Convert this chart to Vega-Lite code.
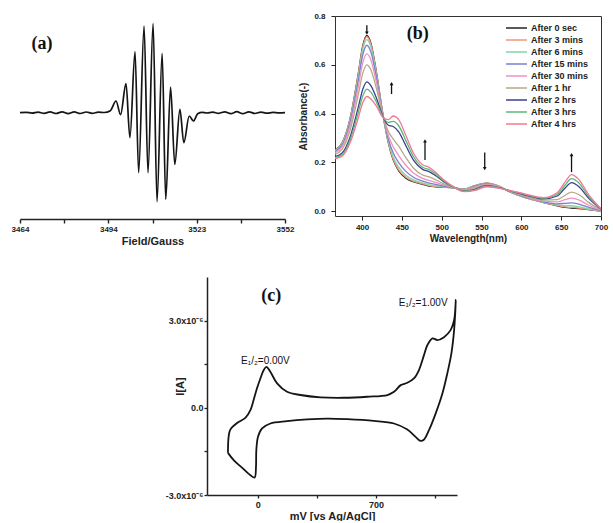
{
  "$schema": "https://vega.github.io/schema/vega-lite/v6.json",
  "background": "white",
  "padding": {"left": 11, "top": 11, "right": 0, "bottom": 0},
  "config": {
    "view": {"stroke": null},
    "axis": {"grid": false, "labelOverlap": false, "labelFont": "Liberation Sans", "labelFontWeight": "bold", "labelFontSize": 8, "titleFont": "Liberation Sans", "titleFontWeight": "bold", "titleFontSize": 11, "domainColor": "#222", "tickColor": "#222", "labelColor": "#222", "titleColor": "#222"}
  },
  "spacing": 31,
  "vconcat": [
    {
      "spacing": 4,
      "hconcat": [
        {
          "width": 265,
          "height": 203,
          "view": {"stroke": null},
          "layer": [
            {
              "data": {"values": [
                {"field": 3464, "s": 0}, {"field": 3466, "s": 0.4}, {"field": 3468, "s": -0.4}, {"field": 3470, "s": 0.6}, {"field": 3472, "s": -0.6}, {"field": 3474, "s": 0.8}, {"field": 3476, "s": -0.8}, {"field": 3478, "s": 0.9}, {"field": 3480, "s": -0.9}, {"field": 3482, "s": 0.8}, {"field": 3484, "s": -0.8}, {"field": 3486, "s": 0.7}, {"field": 3488, "s": -0.6}, {"field": 3490, "s": 0.6}, {"field": 3492, "s": 0.2}, {"field": 3494, "s": 2},
                {"field": 3495.9, "s": 11.7}, {"field": 3497.4, "s": -2}, {"field": 3499.2, "s": 29}, {"field": 3500.5, "s": -25}, {"field": 3502.2, "s": 61}, {"field": 3503.4, "s": -60}, {"field": 3505.2, "s": 86.7}, {"field": 3506.5, "s": -60}, {"field": 3508.2, "s": 89}, {"field": 3509.5, "s": -89}, {"field": 3511.2, "s": 59.3}, {"field": 3512.4, "s": -86.7}, {"field": 3514.0, "s": 25.7}, {"field": 3515.4, "s": -51.7}, {"field": 3517.1, "s": 3.3}, {"field": 3518.4, "s": -30}, {"field": 3520.2, "s": -3.3}, {"field": 3521.6, "s": -8.3}, {"field": 3523, "s": -1},
                {"field": 3524.5, "s": 0.3}, {"field": 3526, "s": -0.3}, {"field": 3528, "s": 0.6}, {"field": 3530, "s": -0.6}, {"field": 3532, "s": 0.9}, {"field": 3534, "s": -0.9}, {"field": 3536, "s": 1}, {"field": 3538, "s": -1}, {"field": 3540, "s": 0.9}, {"field": 3542, "s": -0.8}, {"field": 3544, "s": 0.6}, {"field": 3546, "s": -0.5}, {"field": 3548, "s": 0.3}, {"field": 3550, "s": -0.2}, {"field": 3552, "s": 0}
              ]},
              "mark": {"type": "line", "color": "#151515", "strokeWidth": 1.7, "interpolate": "monotone"},
              "encoding": {
                "x": {"field": "field", "type": "quantitative", "title": "Field/Gauss", "scale": {"domain": [3464, 3552], "nice": false, "zero": false},
                  "axis": {"values": [3464, 3478.67, 3493.33, 3508, 3522.67, 3537.33, 3552], "labelExpr": "(datum.value == 3478.67 || datum.value == 3508 || datum.value == 3537.33) ? '' : format(ceil(datum.value), 'd')", "tickSize": 4, "domainWidth": 1.6, "tickWidth": 1.4, "labelPadding": 2, "titlePadding": 2, "labelFlush": false}},
                "y": {"field": "s", "type": "quantitative", "title": "", "scale": {"domain": [-106.3, 96.7], "nice": false, "zero": false}, "axis": null}
              }
            },
            {
              "data": {"values": [{"field": 3471.3, "s": 68.7, "t": "(a)"}]},
              "mark": {"type": "text", "font": "Liberation Serif", "fontWeight": "bold", "fontSize": 18, "color": "#111"},
              "encoding": {
                "x": {"field": "field", "type": "quantitative", "title": "Field/Gauss"},
                "y": {"field": "s", "type": "quantitative", "title": ""},
                "text": {"field": "t"}
              }
            }
          ]
        },
        {
          "width": 266,
          "height": 200,
          "view": {"stroke": "#333", "strokeWidth": 1},
          "layer": [
            {
              "data": {"values": [
                {"wl": 366, "After 0 sec": 0.25, "After 3 mins": 0.249, "After 6 mins": 0.248, "After 15 mins": 0.244, "After 30 mins": 0.24, "After 1 hr": 0.233, "After 2 hrs": 0.223, "After 3 hrs": 0.219, "After 4 hrs": 0.215},
                {"wl": 375, "After 0 sec": 0.28, "After 3 mins": 0.279, "After 6 mins": 0.276, "After 15 mins": 0.271, "After 30 mins": 0.264, "After 1 hr": 0.254, "After 2 hrs": 0.238, "After 3 hrs": 0.232, "After 4 hrs": 0.225},
                {"wl": 385, "After 0 sec": 0.38, "After 3 mins": 0.378, "After 6 mins": 0.373, "After 15 mins": 0.364, "After 30 mins": 0.35, "After 1 hr": 0.332, "After 2 hrs": 0.304, "After 3 hrs": 0.292, "After 4 hrs": 0.28},
                {"wl": 395, "After 0 sec": 0.56, "After 3 mins": 0.556, "After 6 mins": 0.547, "After 15 mins": 0.531, "After 30 mins": 0.506, "After 1 hr": 0.474, "After 2 hrs": 0.423, "After 3 hrs": 0.402, "After 4 hrs": 0.38},
                {"wl": 401, "After 0 sec": 0.68, "After 3 mins": 0.675, "After 6 mins": 0.664, "After 15 mins": 0.642, "After 30 mins": 0.61, "After 1 hr": 0.567, "After 2 hrs": 0.501, "After 3 hrs": 0.473, "After 4 hrs": 0.445},
                {"wl": 406, "After 0 sec": 0.72, "After 3 mins": 0.715, "After 6 mins": 0.703, "After 15 mins": 0.68, "After 30 mins": 0.645, "After 1 hr": 0.6, "After 2 hrs": 0.53, "After 3 hrs": 0.5, "After 4 hrs": 0.47},
                {"wl": 411, "After 0 sec": 0.69, "After 3 mins": 0.685, "After 6 mins": 0.674, "After 15 mins": 0.653, "After 30 mins": 0.621, "After 1 hr": 0.58, "After 2 hrs": 0.515, "After 3 hrs": 0.488, "After 4 hrs": 0.46},
                {"wl": 418, "After 0 sec": 0.57, "After 3 mins": 0.567, "After 6 mins": 0.56, "After 15 mins": 0.548, "After 30 mins": 0.528, "After 1 hr": 0.503, "After 2 hrs": 0.464, "After 3 hrs": 0.447, "After 4 hrs": 0.43},
                {"wl": 426, "After 0 sec": 0.4, "After 3 mins": 0.4, "After 6 mins": 0.399, "After 15 mins": 0.398, "After 30 mins": 0.396, "After 1 hr": 0.393, "After 2 hrs": 0.389, "After 3 hrs": 0.387, "After 4 hrs": 0.385},
                {"wl": 433, "After 0 sec": 0.28, "After 3 mins": 0.282, "After 6 mins": 0.287, "After 15 mins": 0.295, "After 30 mins": 0.309, "After 1 hr": 0.326, "After 2 hrs": 0.352, "After 3 hrs": 0.364, "After 4 hrs": 0.375},
                {"wl": 439, "After 0 sec": 0.21, "After 3 mins": 0.214, "After 6 mins": 0.223, "After 15 mins": 0.239, "After 30 mins": 0.264, "After 1 hr": 0.296, "After 2 hrs": 0.347, "After 3 hrs": 0.368, "After 4 hrs": 0.39},
                {"wl": 446, "After 0 sec": 0.165, "After 3 mins": 0.169, "After 6 mins": 0.18, "After 15 mins": 0.199, "After 30 mins": 0.228, "After 1 hr": 0.266, "After 2 hrs": 0.325, "After 3 hrs": 0.35, "After 4 hrs": 0.375},
                {"wl": 455, "After 0 sec": 0.135, "After 3 mins": 0.139, "After 6 mins": 0.147, "After 15 mins": 0.163, "After 30 mins": 0.188, "After 1 hr": 0.219, "After 2 hrs": 0.268, "After 3 hrs": 0.289, "After 4 hrs": 0.31},
                {"wl": 465, "After 0 sec": 0.12, "After 3 mins": 0.122, "After 6 mins": 0.128, "After 15 mins": 0.138, "After 30 mins": 0.155, "After 1 hr": 0.175, "After 2 hrs": 0.207, "After 3 hrs": 0.221, "After 4 hrs": 0.235},
                {"wl": 476, "After 0 sec": 0.11, "After 3 mins": 0.112, "After 6 mins": 0.116, "After 15 mins": 0.123, "After 30 mins": 0.134, "After 1 hr": 0.148, "After 2 hrs": 0.171, "After 3 hrs": 0.18, "After 4 hrs": 0.19},
                {"wl": 484, "After 0 sec": 0.103, "After 3 mins": 0.105, "After 6 mins": 0.108, "After 15 mins": 0.115, "After 30 mins": 0.126, "After 1 hr": 0.14, "After 2 hrs": 0.162, "After 3 hrs": 0.171, "After 4 hrs": 0.18},
                {"wl": 492, "After 0 sec": 0.1, "After 3 mins": 0.101, "After 6 mins": 0.104, "After 15 mins": 0.11, "After 30 mins": 0.118, "After 1 hr": 0.129, "After 2 hrs": 0.146, "After 3 hrs": 0.153, "After 4 hrs": 0.16},
                {"wl": 502, "After 0 sec": 0.098, "After 3 mins": 0.099, "After 6 mins": 0.1, "After 15 mins": 0.103, "After 30 mins": 0.108, "After 1 hr": 0.113, "After 2 hrs": 0.122, "After 3 hrs": 0.126, "After 4 hrs": 0.13},
                {"wl": 515, "After 0 sec": 0.095, "After 3 mins": 0.095, "After 6 mins": 0.095, "After 15 mins": 0.096, "After 30 mins": 0.097, "After 1 hr": 0.097, "After 2 hrs": 0.099, "After 3 hrs": 0.099, "After 4 hrs": 0.1},
                {"wl": 528, "After 0 sec": 0.09, "After 3 mins": 0.09, "After 6 mins": 0.089, "After 15 mins": 0.088, "After 30 mins": 0.087, "After 1 hr": 0.085, "After 2 hrs": 0.082, "After 3 hrs": 0.081, "After 4 hrs": 0.08},
                {"wl": 542, "After 0 sec": 0.105, "After 3 mins": 0.105, "After 6 mins": 0.104, "After 15 mins": 0.102, "After 30 mins": 0.099, "After 1 hr": 0.095, "After 2 hrs": 0.09, "After 3 hrs": 0.087, "After 4 hrs": 0.085},
                {"wl": 556, "After 0 sec": 0.115, "After 3 mins": 0.115, "After 6 mins": 0.114, "After 15 mins": 0.113, "After 30 mins": 0.111, "After 1 hr": 0.108, "After 2 hrs": 0.104, "After 3 hrs": 0.102, "After 4 hrs": 0.1},
                {"wl": 570, "After 0 sec": 0.105, "After 3 mins": 0.105, "After 6 mins": 0.104, "After 15 mins": 0.103, "After 30 mins": 0.102, "After 1 hr": 0.1, "After 2 hrs": 0.097, "After 3 hrs": 0.096, "After 4 hrs": 0.095},
                {"wl": 585, "After 0 sec": 0.08, "After 3 mins": 0.08, "After 6 mins": 0.08, "After 15 mins": 0.081, "After 30 mins": 0.082, "After 1 hr": 0.082, "After 2 hrs": 0.084, "After 3 hrs": 0.084, "After 4 hrs": 0.085},
                {"wl": 605, "After 0 sec": 0.055, "After 3 mins": 0.055, "After 6 mins": 0.056, "After 15 mins": 0.057, "After 30 mins": 0.06, "After 1 hr": 0.062, "After 2 hrs": 0.066, "After 3 hrs": 0.068, "After 4 hrs": 0.07},
                {"wl": 628, "After 0 sec": 0.035, "After 3 mins": 0.035, "After 6 mins": 0.036, "After 15 mins": 0.038, "After 30 mins": 0.041, "After 1 hr": 0.045, "After 2 hrs": 0.05, "After 3 hrs": 0.053, "After 4 hrs": 0.055},
                {"wl": 645, "After 0 sec": 0.022, "After 3 mins": 0.023, "After 6 mins": 0.026, "After 15 mins": 0.03, "After 30 mins": 0.038, "After 1 hr": 0.047, "After 2 hrs": 0.062, "After 3 hrs": 0.069, "After 4 hrs": 0.075},
                {"wl": 655, "After 0 sec": 0.015, "After 3 mins": 0.017, "After 6 mins": 0.022, "After 15 mins": 0.032, "After 30 mins": 0.047, "After 1 hr": 0.065, "After 2 hrs": 0.095, "After 3 hrs": 0.107, "After 4 hrs": 0.12},
                {"wl": 663, "After 0 sec": 0.012, "After 3 mins": 0.015, "After 6 mins": 0.022, "After 15 mins": 0.034, "After 30 mins": 0.053, "After 1 hr": 0.078, "After 2 hrs": 0.117, "After 3 hrs": 0.133, "After 4 hrs": 0.15},
                {"wl": 672, "After 0 sec": 0.01, "After 3 mins": 0.012, "After 6 mins": 0.018, "After 15 mins": 0.029, "After 30 mins": 0.046, "After 1 hr": 0.068, "After 2 hrs": 0.101, "After 3 hrs": 0.116, "After 4 hrs": 0.13},
                {"wl": 684, "After 0 sec": 0.006, "After 3 mins": 0.007, "After 6 mins": 0.01, "After 15 mins": 0.016, "After 30 mins": 0.025, "After 1 hr": 0.037, "After 2 hrs": 0.055, "After 3 hrs": 0.062, "After 4 hrs": 0.07},
                {"wl": 700, "After 0 sec": 0.0, "After 3 mins": 0.0, "After 6 mins": 0.001, "After 15 mins": 0.002, "After 30 mins": 0.003, "After 1 hr": 0.005, "After 2 hrs": 0.008, "After 3 hrs": 0.009, "After 4 hrs": 0.01}
              ]},
              "transform": [{"fold": ["After 0 sec", "After 3 mins", "After 6 mins", "After 15 mins", "After 30 mins", "After 1 hr", "After 2 hrs", "After 3 hrs", "After 4 hrs"], "as": ["series", "abs"]}],
              "mark": {"type": "line", "strokeWidth": 1.3, "interpolate": "monotone", "clip": true},
              "encoding": {
                "x": {"field": "wl", "type": "quantitative", "title": "Wavelength(nm)", "scale": {"domain": [366, 700], "nice": false, "zero": false},
                  "axis": {"values": [400, 450, 500, 550, 600, 650, 700], "format": "d", "tickSize": 4, "labelPadding": 3, "titlePadding": 2, "titleFontSize": 10, "labelFlush": false, "domain": false}},
                "y": {"field": "abs", "type": "quantitative", "title": "Absorbance(-)", "scale": {"domain": [-0.02, 0.8], "nice": false, "zero": false},
                  "axis": {"values": [0, 0.05, 0.1, 0.15, 0.2, 0.25, 0.3, 0.35, 0.4, 0.45, 0.5, 0.55, 0.6, 0.65, 0.7, 0.75, 0.8], "labelExpr": "round(datum.value * 100) % 10 == 0 ? format(datum.value, '.1f') : ''", "tickSize": {"condition": {"test": "round(datum.value * 100) % 10 == 0", "value": 4}, "value": 2}, "labelPadding": 6, "titlePadding": 5, "titleFontSize": 10, "domain": false}},
                "color": {"field": "series", "type": "nominal", "sort": null,
                  "scale": {"domain": ["After 0 sec", "After 3 mins", "After 6 mins", "After 15 mins", "After 30 mins", "After 1 hr", "After 2 hrs", "After 3 hrs", "After 4 hrs"],
                            "range": ["#222222", "#f4937a", "#86d4a4", "#7b7fd0", "#f090c4", "#b3aa86", "#3a3f8f", "#5cb87a", "#f07a92"]},
                  "legend": {"orient": "none", "legendX": 485, "legendY": 6, "title": null, "symbolType": "stroke", "symbolSize": 441, "symbolStrokeWidth": 1.5, "clipHeight": 12, "labelFont": "Liberation Sans", "labelFontWeight": "bold", "labelFontSize": 9, "labelColor": "#222", "labelOffset": 3, "rowPadding": 0}}
              }
            },
            {
              "data": {"values": [
                {"wl": 406, "abs": 0.762, "abs2": 0.73, "dir": "down"},
                {"wl": 437, "abs": 0.48, "abs2": 0.523, "dir": "up"},
                {"wl": 479, "abs": 0.21, "abs2": 0.288, "dir": "up"},
                {"wl": 554, "abs": 0.24, "abs2": 0.174, "dir": "down"},
                {"wl": 663, "abs": 0.16, "abs2": 0.232, "dir": "up"}
              ]},
              "mark": {"type": "rule", "color": "#111", "strokeWidth": 1.3},
              "encoding": {
                "x": {"field": "wl", "type": "quantitative", "title": "Wavelength(nm)"},
                "y": {"field": "abs", "type": "quantitative", "title": "Absorbance(-)"},
                "y2": {"field": "abs2"}
              }
            },
            {
              "data": {"values": [
                {"wl": 406, "abs": 0.73, "dir": "down"},
                {"wl": 437, "abs": 0.523, "dir": "up"},
                {"wl": 479, "abs": 0.288, "dir": "up"},
                {"wl": 554, "abs": 0.174, "dir": "down"},
                {"wl": 663, "abs": 0.232, "dir": "up"}
              ]},
              "mark": {"type": "point", "filled": true, "color": "#111", "size": 14, "opacity": 1},
              "encoding": {
                "x": {"field": "wl", "type": "quantitative", "title": "Wavelength(nm)"},
                "y": {"field": "abs", "type": "quantitative", "title": "Absorbance(-)"},
                "shape": {"field": "dir", "type": "nominal", "scale": {"domain": ["up", "down"], "range": ["triangle-up", "triangle-down"]}, "legend": null}
              }
            },
            {
              "data": {"values": [{"wl": 470, "abs": 0.726, "t": "(b)"}]},
              "mark": {"type": "text", "font": "Liberation Serif", "fontWeight": "bold", "fontSize": 18, "color": "#111"},
              "encoding": {
                "x": {"field": "wl", "type": "quantitative", "title": "Wavelength(nm)"},
                "y": {"field": "abs", "type": "quantitative", "title": "Absorbance(-)"},
                "text": {"field": "t"}
              }
            }
          ]
        }
      ]
    },
    {
      "spacing": 0,
      "hconcat": [
        {
          "width": 145,
          "height": 10,
          "data": {"values": []},
          "mark": "point"
        },
        {
          "width": 250,
          "height": 218,
          "view": {"stroke": null},
          "layer": [
            {
              "data": {"values": [
                {"i": 1, "mv": -176, "cur": -1.55}, {"i": 2, "mv": -172, "cur": -1.0}, {"i": 3, "mv": -162, "cur": -0.75}, {"i": 4, "mv": -122, "cur": -0.52}, {"i": 5, "mv": -73, "cur": -0.35}, {"i": 6, "mv": -43, "cur": -0.08}, {"i": 7, "mv": -24, "cur": 0.27}, {"i": 8, "mv": -4, "cur": 0.67}, {"i": 9, "mv": 16, "cur": 1.01}, {"i": 10, "mv": 36, "cur": 1.3}, {"i": 11, "mv": 52, "cur": 1.41}, {"i": 12, "mv": 75, "cur": 1.24}, {"i": 13, "mv": 115, "cur": 0.84}, {"i": 14, "mv": 174, "cur": 0.55}, {"i": 15, "mv": 253, "cur": 0.44}, {"i": 16, "mv": 372, "cur": 0.36}, {"i": 17, "mv": 510, "cur": 0.345}, {"i": 18, "mv": 649, "cur": 0.38}, {"i": 19, "mv": 768, "cur": 0.44}, {"i": 20, "mv": 807, "cur": 0.55}, {"i": 21, "mv": 847, "cur": 0.78}, {"i": 22, "mv": 886, "cur": 0.86}, {"i": 23, "mv": 925, "cur": 1.01}, {"i": 24, "mv": 955, "cur": 1.3}, {"i": 25, "mv": 985, "cur": 1.82}, {"i": 26, "mv": 1005, "cur": 2.16}, {"i": 27, "mv": 1035, "cur": 2.39}, {"i": 28, "mv": 1064, "cur": 2.33}, {"i": 29, "mv": 1103, "cur": 2.43}, {"i": 30, "mv": 1143, "cur": 2.68}, {"i": 31, "mv": 1163, "cur": 3.02}, {"i": 32, "mv": 1173, "cur": 3.71},
                {"i": 33, "mv": 1163, "cur": 2.68}, {"i": 34, "mv": 1147, "cur": 1.88}, {"i": 35, "mv": 1123, "cur": 1.19}, {"i": 36, "mv": 1094, "cur": 0.5}, {"i": 37, "mv": 1054, "cur": -0.19}, {"i": 38, "mv": 1014, "cur": -0.77}, {"i": 39, "mv": 985, "cur": -1.09}, {"i": 40, "mv": 965, "cur": -1.14}, {"i": 41, "mv": 935, "cur": -1.0}, {"i": 42, "mv": 886, "cur": -0.75}, {"i": 43, "mv": 807, "cur": -0.54}, {"i": 44, "mv": 688, "cur": -0.45}, {"i": 45, "mv": 530, "cur": -0.39}, {"i": 46, "mv": 412, "cur": -0.37}, {"i": 47, "mv": 293, "cur": -0.4}, {"i": 48, "mv": 174, "cur": -0.46}, {"i": 49, "mv": 75, "cur": -0.54}, {"i": 50, "mv": 26, "cur": -0.71}, {"i": 51, "mv": 2, "cur": -1.0}, {"i": 52, "mv": -8, "cur": -1.46}, {"i": 53, "mv": -10, "cur": -2.03}, {"i": 54, "mv": -18, "cur": -2.4}, {"i": 55, "mv": -43, "cur": -2.32}, {"i": 56, "mv": -93, "cur": -2.06}, {"i": 57, "mv": -142, "cur": -1.8}, {"i": 58, "mv": -176, "cur": -1.55}
              ]},
              "mark": {"type": "line", "color": "#151515", "strokeWidth": 1.8, "interpolate": "catmull-rom"},
              "encoding": {
                "x": {"field": "mv", "type": "quantitative", "title": "mV [vs Ag/AgCl]", "scale": {"domain": [-300, 1180], "nice": false, "zero": false},
                  "axis": {"values": [0, 350, 700, 1050], "labelExpr": "(datum.value == 0 || datum.value == 700) ? datum.value : ''", "tickSize": 3, "labelFontSize": 9, "domainWidth": 1.5, "tickWidth": 1.3, "labelPadding": 2, "titlePadding": 1}},
                "y": {"field": "cur", "type": "quantitative", "title": "I[A]", "scale": {"domain": [-3, 4.5], "nice": false, "zero": false},
                  "axis": {"values": [-3, -1.5, 0, 1.5, 3], "labelExpr": "datum.value == 0 ? '0.0' : datum.value == 3 ? '3.0x10⁻⁶' : datum.value == -3 ? '-3.0x10⁻⁶' : ''", "tickSize": 3, "labelFontSize": 9, "domainWidth": 1.5, "tickWidth": 1.3, "labelPadding": 1, "titleX": -22}},
                "order": {"field": "i", "type": "quantitative"}
              }
            },
            {
              "data": {"values": [{"mv": 81, "cur": 3.83, "t": "(c)"}]},
              "mark": {"type": "text", "font": "Liberation Serif", "fontWeight": "bold", "fontSize": 18, "color": "#111"},
              "encoding": {
                "x": {"field": "mv", "type": "quantitative", "title": "mV [vs Ag/AgCl]"},
                "y": {"field": "cur", "type": "quantitative", "title": "I[A]"},
                "text": {"field": "t"}
              }
            },
            {
              "data": {"values": [
                {"mv": 46, "cur": 1.6, "t": "E₁/₂=0.00V"},
                {"mv": 980, "cur": 3.62, "t": "E₁/₂=1.00V"}
              ]},
              "mark": {"type": "text", "font": "Liberation Sans", "fontSize": 10, "color": "#111"},
              "encoding": {
                "x": {"field": "mv", "type": "quantitative", "title": "mV [vs Ag/AgCl]"},
                "y": {"field": "cur", "type": "quantitative", "title": "I[A]"},
                "text": {"field": "t"}
              }
            }
          ]
        }
      ]
    }
  ]
}
